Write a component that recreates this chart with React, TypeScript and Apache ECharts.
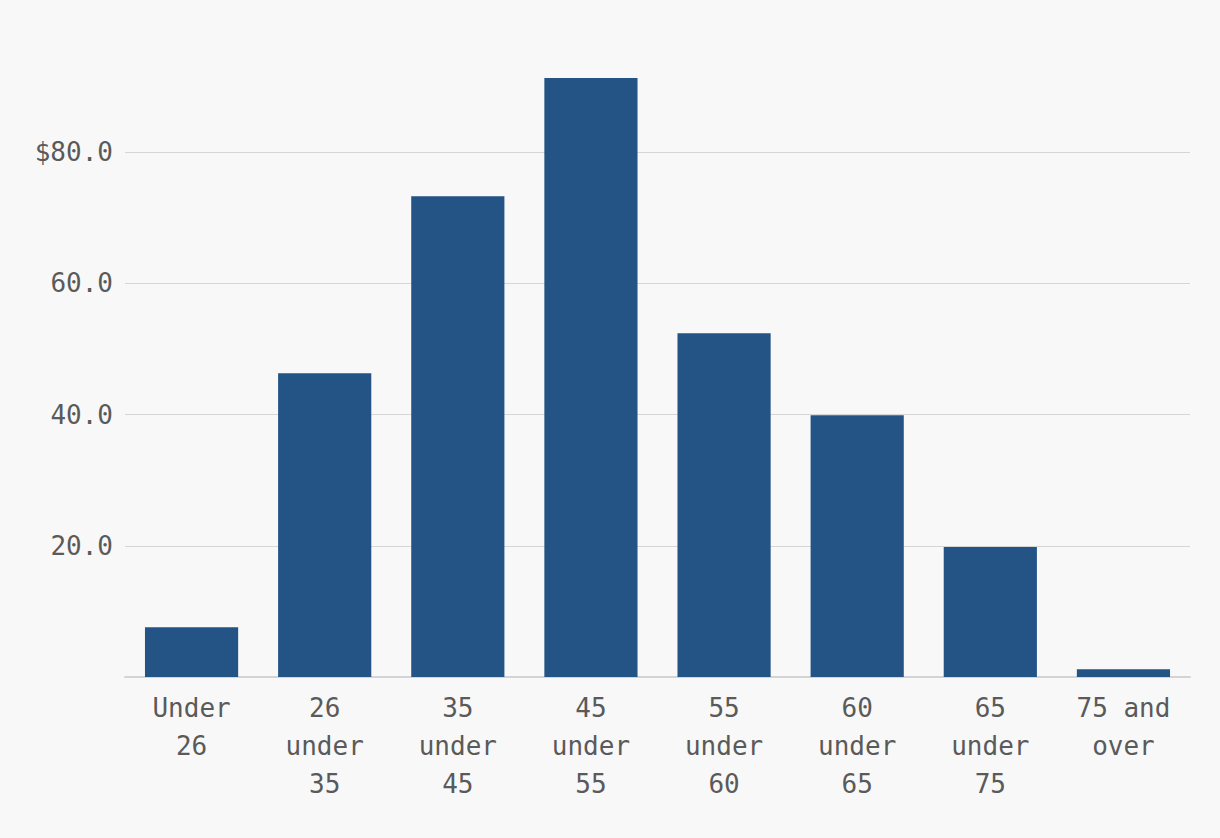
import React, { useEffect, useRef } from "react";
import * as echarts from "echarts";

const categories = [
  "Under\n26",
  "26\nunder\n35",
  "35\nunder\n45",
  "45\nunder\n55",
  "55\nunder\n60",
  "60\nunder\n65",
  "65\nunder\n75",
  "75 and\nover",
];
const values = [7.6, 46.3, 73.3, 91.3, 52.4, 39.9, 19.8, 1.2];
const yTicks = [0, 20, 40, 60, 80, 100];

export default function App() {
  const ref = useRef<HTMLDivElement>(null);
  useEffect(() => {
    if (!ref.current) return;
    const chart = echarts.init(ref.current, undefined, { renderer: "svg" });
    const font = "'DejaVu Sans Mono', 'Liberation Mono', monospace";
    chart.setOption({
      animation: false,
      backgroundColor: "#f8f8f8",
      grid: { left: 125, right: 30, top: 21, bottom: 161, containLabel: false },
      xAxis: {
        type: "category",
        data: categories,
        axisLine: { show: true, lineStyle: { color: "#d4d4d4", width: 2 } },
        axisTick: { show: false },
        axisLabel: {
          color: "#5a5a5a",
          fontFamily: font,
          fontSize: 26,
          lineHeight: 38,
          margin: 12,
          interval: 0,
        },
      },
      yAxis: {
        type: "value",
        min: 0,
        max: yTicks[yTicks.length - 1],
        interval: 20,
        axisLine: { show: false },
        axisTick: { show: false },
        splitLine: {
          show: true,
          lineStyle: {
            color: ["transparent", "#d6d6d6", "#d6d6d6", "#d6d6d6", "#d6d6d6", "transparent"],
            width: 1,
          },
        },
        axisLabel: {
          color: "#5a5a5a",
          fontFamily: font,
          fontSize: 26,
          margin: 12,
          formatter: (v: number) => {
            if (v === 0 || v === 100) return "";
            if (v === 80) return "$" + v.toFixed(1);
            return v.toFixed(1);
          },
        },
      },
      series: [
        {
          type: "bar",
          data: values,
          barCategoryGap: "30%",
          itemStyle: { color: "#245486" },
        },
      ],
    });
    return () => chart.dispose();
  }, []);
  return (
    <div
      ref={ref}
      style={{ width: 1220, height: 838, position: "absolute", left: 0, top: 0 }}
    />
  );
}
